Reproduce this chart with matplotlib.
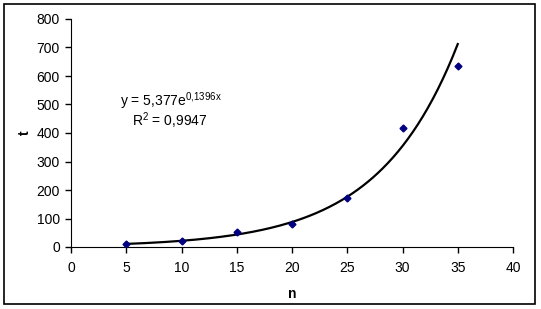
import matplotlib.pyplot as plt
import numpy as np

plt.rcParams["font.family"] = ["Liberation Sans", "DejaVu Sans"]
plt.rcParams["mathtext.default"] = "regular"

n = [5, 10, 15, 20, 25, 30, 35]
t = [10, 22, 52, 80, 173, 416, 636]

# trendline coefficients as shown on the chart
fit_a = 5.377
fit_b = 0.1396
fit_r2 = 0.9947

xticks = [0, 5, 10, 15, 20, 25, 30, 35, 40]
yticks = [0, 100, 200, 300, 400, 500, 600, 700, 800]

fig = plt.figure(figsize=(5.41, 3.09), dpi=100)
ax = fig.add_axes([71 / 541, 1 - 247 / 309, (513 - 71) / 541, (247 - 19) / 309])

# outer chart border
fig.patches.append(plt.Rectangle((4 / 541, 5 / 309), 531 / 541, 300 / 309,
                                 transform=fig.transFigure, fill=False,
                                 edgecolor="black", linewidth=1.2))

xs = np.linspace(min(n), max(n), 200)
ax.plot(xs, fit_a * np.exp(fit_b * xs), color="black", linewidth=1.6, zorder=2)
ax.plot(n, t, linestyle="none", marker="D", markersize=3.5,
        color="#000080", zorder=3)

ax.set_xlim(0, 40)
ax.set_ylim(0, 800)
ax.set_xticks(xticks)
ax.set_yticks(yticks)
ax.tick_params(labelsize=10, length=4, width=1, direction="out")
ax.tick_params(axis="x", pad=6)
ax.tick_params(axis="y", pad=4)
ax.spines["top"].set_visible(False)
ax.spines["right"].set_visible(False)

ax.set_xlabel("n", fontsize=10, fontweight="bold", labelpad=9)
ax.set_ylabel("t", fontsize=10, fontweight="bold", rotation=90,
              ha="center", va="center")
ax.yaxis.set_label_coords(-46 / 442, 0.5)

eq = "y = {:s}e$^{{{:s}x}}$".format(str(fit_a).replace(".", ","),
                                   str(fit_b).replace(".", "{,}"))
r2 = "R$^2$ = {:s}".format(str(fit_r2).replace(".", ","))
ax.text(4.4, 512, eq, fontsize=10, ha="left", va="center")
ax.text(5.5, 442, r2, fontsize=10, ha="left", va="center")

fig.savefig("out.png", dpi=100)
